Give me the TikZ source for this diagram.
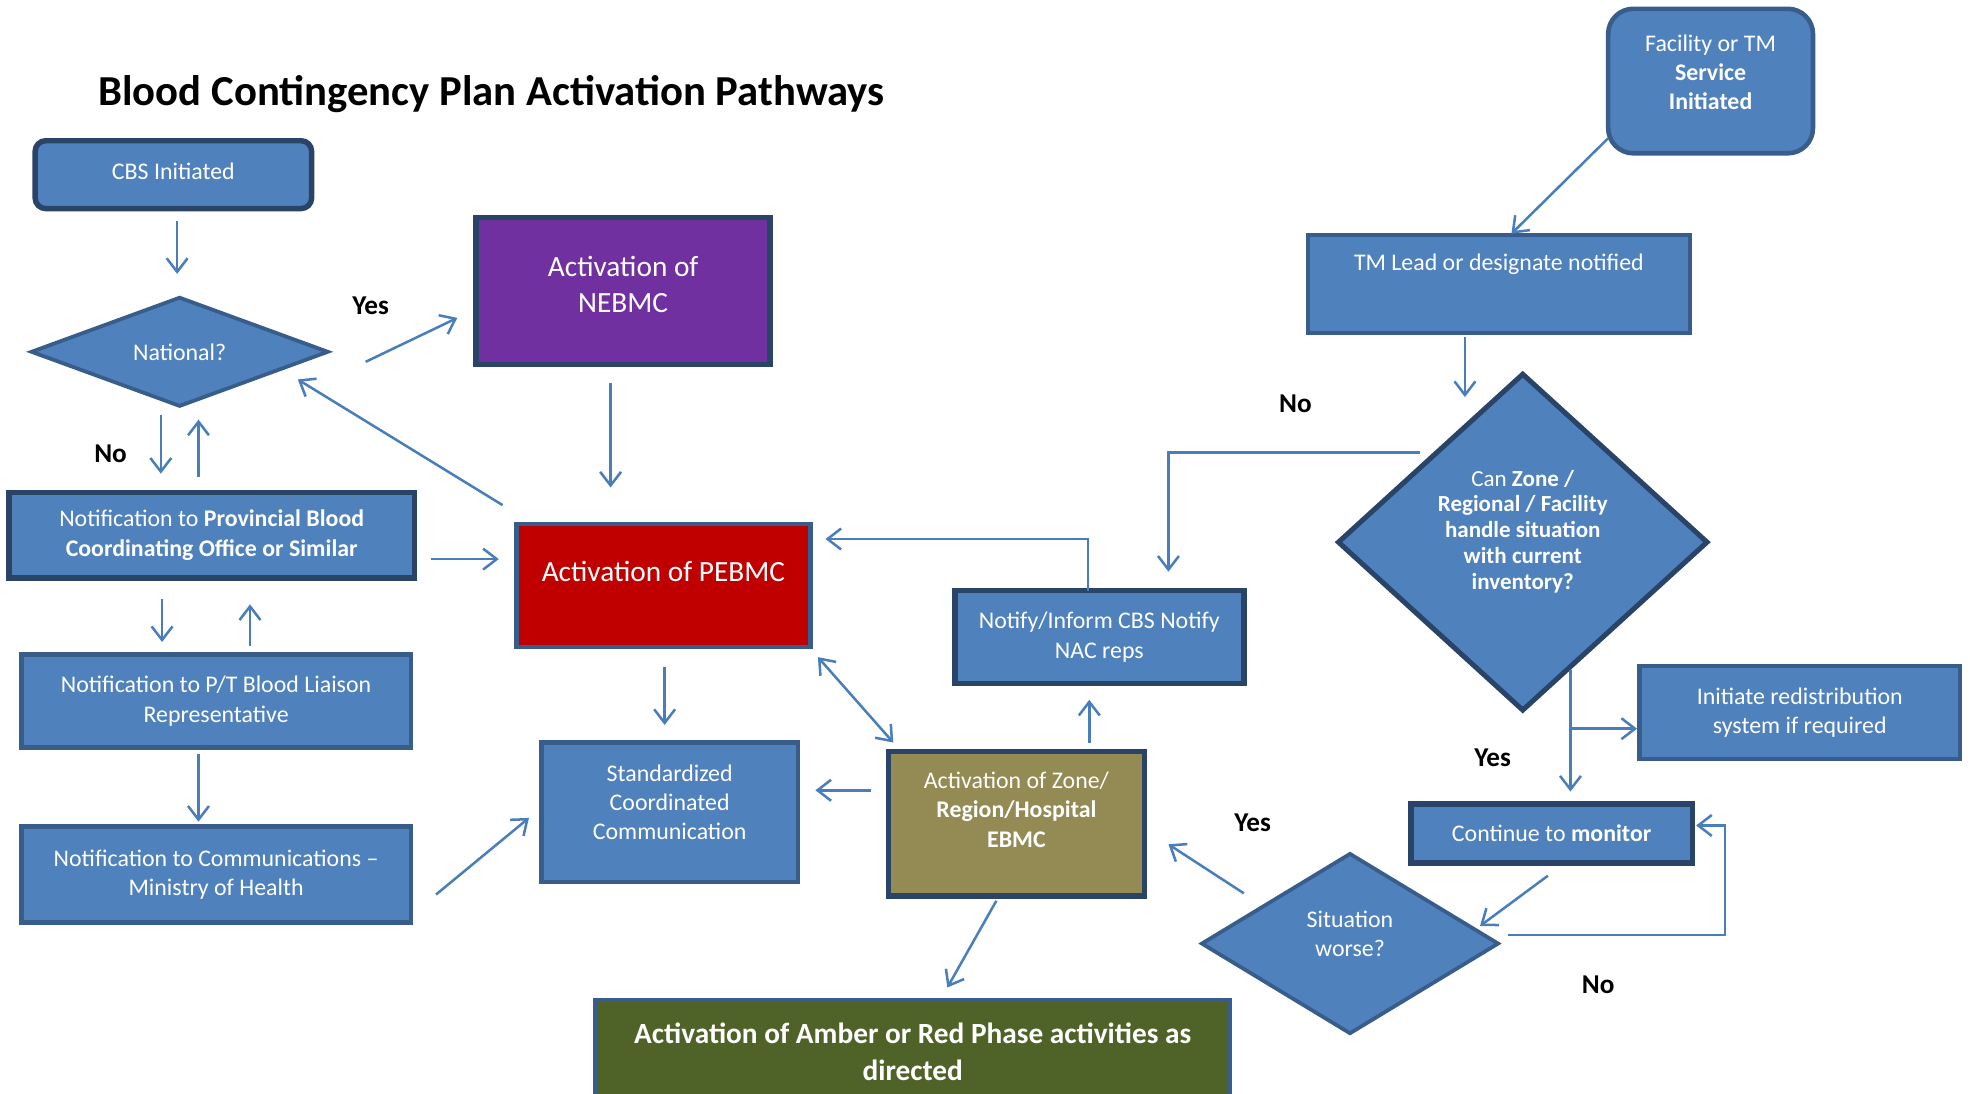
\documentclass[tikz,border=0pt]{standalone}
\usepackage{fontspec}
\setmainfont{Carlito}
\usetikzlibrary{arrows.meta,shapes.geometric,calc}
\definecolor{fblue}{HTML}{4F81BD}
\definecolor{bdark}{HTML}{2A4468}
\definecolor{bmid}{HTML}{385D8A}
\definecolor{cpurple}{HTML}{7030A0}
\definecolor{cred}{HTML}{C00000}
\definecolor{colive}{HTML}{948A54}
\definecolor{cgreen}{HTML}{4F6228}
\definecolor{carrow}{HTML}{4A7EBB}
\newcommand{\bodyfont}{\fontsize{11.4}{14}\selectfont}
\newcommand{\bigfont}{\fontsize{14}{17}\selectfont}
\tikzset{
  wh/.style 2 args={minimum width={#1*0.6pt}, minimum height={#2*0.6pt}},
  box/.style={draw=bmid, line width=2.2pt, fill=fblue, text=white, inner sep=0pt, align=center, font=\bodyfont},
  dbox/.style={box, draw=bdark, line width=2.6pt},
  dia/.style={diamond, draw=bmid, line width=1.8pt, fill=fblue, text=white, inner sep=0pt, align=center, font=\bodyfont},
  txt/.style={text=white, align=center, inner sep=0pt, font=\bodyfont},
  arr/.style={draw=carrow, line width=1.2pt, -{Straight Barb[length=6.5pt,width=10pt]}},
  darr/.style={arr, {Straight Barb[length=6.5pt,width=10pt]}-{Straight Barb[length=6.5pt,width=10pt]}},
  lbl/.style={font=\bfseries\fontsize{13}{15}\selectfont, text=black, inner sep=0pt}
}
\begin{document}
\begin{tikzpicture}[x=0.6pt,y=-0.6pt]
\useasboundingbox (0,0) rectangle (1568,870);

\node[font=\bfseries\fontsize{20.4}{24}\selectfont, anchor=west, inner sep=0pt] (title) at (78,75) {Blood Contingency Plan Activation Pathways};

% left column
\node[dbox, wh={220}{54}, rounded corners=5pt, label={[txt, yshift=1.8pt]center:CBS Initiated}] (cbs) at (138,139) {};
\node[dia, wh={237}{84}] (nat) at (143,280) {National?};
\node[dbox, wh={234}{117}, fill=cpurple, label={[txt, font=\bigfont, yshift=3pt]center:{Activation of\\NEBMC}}] (nebmc) at (496,231.5) {};
\node[dbox, wh={323}{68}] (prov) at (168.5,426) {Notification to \textbf{Provincial Blood}\\\textbf{Coordinating Office or Similar}};
\node[box, wh={234}{98}, fill=cred, label={[txt, font=\bigfont, yshift=6.6pt]center:Activation of PEBMC}] (pebmc) at (528,466) {};
\node[box, wh={310}{74}] (pt) at (172,558) {Notification to P/T Blood Liaison\\Representative};
\node[box, wh={310}{76}] (comm) at (172,696) {Notification to Communications –\\Ministry of Health};
\node[box, wh={204}{111}, label={[txt, yshift=4.8pt]center:{Standardized\\Coordinated\\Communication}}] (std) at (533,646.5) {};
\node[dbox, wh={204}{115}, fill=colive, label={[txt, yshift=6.6pt]center:{Activation of Zone/\\\textbf{Region/Hospital}\\\textbf{EBMC}}}] (zone) at (809,655.5) {};
\node[dbox, wh={230}{74}] (notify) at (875,507) {Notify/Inform CBS Notify\\NAC reps};
\node[box, wh={505}{82}, fill=cgreen, font=\bfseries\fontsize{14}{17.4}\selectfont] (green) at (726.5,837) {Activation of Amber or Red Phase activities as\\directed};

% right column
\node[box, wh={163}{115}, rounded corners=12pt, label={[txt, yshift=4.2pt]center:{Facility or TM\\\textbf{Service}\\\textbf{Initiated}}}] (fac) at (1361.5,64.5) {};
\node[box, wh={304}{78}, label={[txt, yshift=9.6pt]center:TM Lead or designate notified}] (tmlead) at (1193,226) {};
\node[dia, draw=bdark, line width=2.4pt, wh={295}{269}, label={[txt, font=\fontsize{11}{12.4}\selectfont, yshift=5pt]center:{Can \textbf{Zone /}\\\textbf{Regional / Facility}\\\textbf{handle situation}\\\textbf{with current}\\\textbf{inventory?}}}] (canz) at (1212,431.5) {};
\node[box, wh={255}{74}] (init) at (1432.5,567) {Initiate redistribution\\system if required};
\node[dbox, wh={224}{47}] (cont) at (1235,663.5) {Continue to \textbf{monitor}};
\node[dia, wh={237}{144}, label={[txt, yshift=4.8pt]center:{Situation\\worse?}}] (sit) at (1074.5,751) {};

% labels
\node[lbl] (y1) at (295,243) {Yes};
\node[lbl] (n1) at (88,361) {No};
\node[lbl] (n2) at (1031,321) {No};
\node[lbl] (y2) at (1188,603) {Yes};
\node[lbl] (y3) at (997,655) {Yes};
\node[lbl] (n3) at (1272,784) {No};

% connectors
\draw[arr] ($(cbs)+(3,37)$) -- ($(nat)+(-2,-62)$);
\draw[arr] ($(nat)+(148,8)$) -- ($(nebmc)+(-132,21.5)$);
\draw[arr] ($(nebmc)+(-10,73.5)$) -- ($(pebmc)+(-42,-78)$);
\draw[arr] ($(pebmc)+(-128,-64)$) -- ($(nat)+(94,22)$);
\draw[arr] ($(nat)+(-15,50)$) -- ($(prov)+(-40.5,-49)$);
\draw[arr] ($(prov)+(-10.5,-46)$) -- ($(nat)+(15,54)$);
\draw[arr] ($(prov)+(174.5,19)$) -- ($(pebmc)+(-131,-21)$);
\draw[arr] ($(prov)+(-39.5,51)$) -- ($(pt)+(-43,-47)$);
\draw[arr] ($(pt)+(27,-44)$) -- ($(prov)+(30.5,55)$);
\draw[arr] ($(pt)+(-14,42)$) -- ($(comm)+(-14,-42)$);
\draw[arr] ($(comm)+(175,16)$) -- ($(std)+(-112,4.5)$);
\draw[arr] ($(pebmc)+(1,65)$) -- ($(std)+(-4,-69.5)$);
\draw[darr] ($(pebmc)+(123,57)$) -- ($(zone)+(-98,-64.5)$);
\draw[arr] ($(zone)+(-116,-26.5)$) -- ($(std)+(116,-17.5)$);
\draw[arr] ($(zone)+(58,-64.5)$) -- ($(notify)+(-8,50)$);
\draw[arr] ($(notify)+(-9,-37)$) |- ($(pebmc)+(129,-37)$);
\draw[arr] ($(canz)+(-82,-71.5)$) -| ($(notify)+(55,-52)$);
\draw[arr] ($(tmlead)+(-27,42)$) -- ($(canz)+(-46,-115.5)$);
\draw[arr] ($(fac)+(-81.5,45.5)$) -- ($(tmlead)+(10,-40)$);
\draw[arr] ($(canz)+(38,101.5)$) -- ($(cont)+(15,-33.5)$);
\draw[arr] ($(canz)+(38,148.5)$) -- ($(init)+(-129.5,13)$);
\draw[arr] ($(cont)+(-3,33.5)$) -- ($(sit)+(103.5,-14)$);
\draw[arr] ($(sit)+(125.5,-7)$) -- ++(173,0) |- ($(cont)+(115,-6.5)$);
\draw[arr] ($(sit)+(-84.5,-40)$) -- ($(zone)+(121,16.5)$);
\draw[arr] ($(zone)+(-16,61.5)$) -- ($(green)+(27.5,-51)$);
\end{tikzpicture}
\end{document}
